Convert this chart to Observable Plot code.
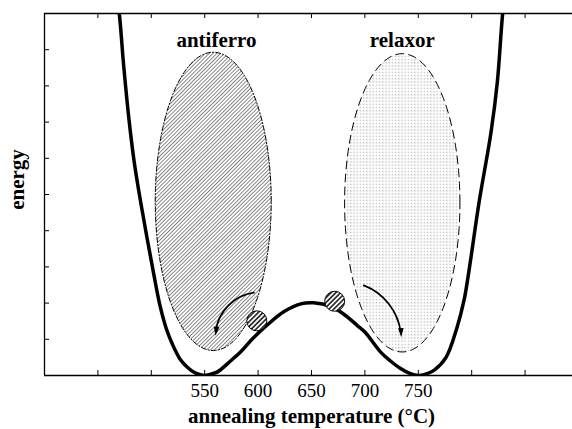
<!DOCTYPE html>
<html><head><meta charset="utf-8">
<script src="https://cdn.jsdelivr.net/npm/d3@7"></script>
<script src="https://cdn.jsdelivr.net/npm/@observablehq/plot@0.6"></script>
<style>body{margin:0;background:#fff} svg{display:block}</style>
</head><body><div id="chart"></div>
<script>
// ---- data ----
const curveT = [465, 470, 474, 479, 484, 490, 496, 502, 508, 514, 520, 527, 534, 540, 545, 550, 555, 562, 573, 584, 595, 608, 624, 640, 652, 668, 680, 693, 700, 715, 724, 733, 742, 750, 757, 765, 776, 786, 793, 798, 807, 818, 824, 829, 833];
const curveE = [11.0, 10.0, 8.6, 7.1, 5.9, 4.8, 3.8, 2.85, 1.95, 1.3, 0.85, 0.45, 0.22, 0.09, 0.03, 0.0, 0.03, 0.1, 0.37, 0.66, 1.02, 1.38, 1.76, 1.98, 2.01, 1.91, 1.70, 1.38, 1.2, 0.64, 0.4, 0.2, 0.06, 0.0, 0.04, 0.15, 0.5, 1.3, 2.1, 3.0, 4.8, 6.7, 8.1, 10.0, 11.0];
const xTicks = [450, 500, 550, 600, 650, 700, 750, 800, 850];
const xTickLabels = [550, 600, 650, 700, 750];
const yTicks = [1, 2, 3, 4, 5, 6, 7, 8, 9];
const regionNames = ["antiferro", "relaxor"];
const regionCenterT = [558, 735];
const regionCenterE = [4.81, 4.77];
const regionRadT = [54.3, 54];
const regionRadE = [4.12, 4.12];
const labelT = [561, 735];
const labelE = [9.25, 9.25];
const ballT = [598.8, 671.7];
const ballE = [1.51, 2.05];
const arrowFromT = [596, 699];
const arrowFromE = [2.29, 2.49];
const arrowToT = [560, 734];
const arrowToE = [1.10, 1.06];
const arrowBend = [-40, 33];
const headRotate = [8, -2];
const xTitle = "annealing temperature (°C)";
const yTitle = "energy";

// ---- layout ----
const W = 572, H = 429, mL = 44, mT = 13, mB = 54, mR = 0;
const xDomain = [400, 894.4], yDomain = [0, 10];
const pxT = (W - mL - mR) / (xDomain[1] - xDomain[0]);
const pxE = (H - mT - mB) / (yDomain[1] - yDomain[0]);
const tickLen = 5;
const font = "'Liberation Serif', 'Times New Roman', serif";

const curve = curveT.map((t, i) => ({t, e: curveE[i]}));
const ellipse = (i) => d3.range(0, 144).map(k => {
  const a = 2 * Math.PI * k / 144;
  return {t: regionCenterT[i] + regionRadT[i] * Math.cos(a), e: regionCenterE[i] + regionRadE[i] * Math.sin(a)};
});
const balls = ballT.map((t, i) => ({t, e: ballE[i]}));
const arrowHead = {draw(ctx, size) {
  const r = Math.sqrt(size / Math.PI);
  ctx.moveTo(0, 0); ctx.lineTo(-r * 0.62, -r * 2); ctx.lineTo(r * 0.62, -r * 2); ctx.closePath();
}};

const marks = [
  Plot.line(ellipse(0), {x: "t", y: "e", curve: "linear-closed", fill: "url(#hatchA)", stroke: "black", strokeWidth: 1, strokeDasharray: "5,2,1.2,2"}),
  Plot.line(ellipse(1), {x: "t", y: "e", curve: "linear-closed", fill: "url(#dotsR)", stroke: "black", strokeWidth: 1, strokeDasharray: "8,5"}),
  Plot.line(curve, {x: "t", y: "e", curve: "catmull-rom", stroke: "black", strokeWidth: 3.5, strokeLinejoin: "round", clip: true}),
  // frame (left, top, bottom)
  Plot.ruleY([yDomain[0], yDomain[1]], {stroke: "black", strokeWidth: 1.3}),
  Plot.ruleX([xDomain[0]], {stroke: "black", strokeWidth: 1.3}),
  // inward ticks
  Plot.ruleX(xTicks, {x: d => d, y1: yDomain[0], y2: yDomain[0] + tickLen / pxE, stroke: "black", strokeWidth: 1}),
  Plot.ruleX(xTicks, {x: d => d, y1: yDomain[1], y2: yDomain[1] - tickLen / pxE, stroke: "black", strokeWidth: 1}),
  Plot.ruleY(yTicks, {y: d => d, x1: xDomain[0], x2: xDomain[0] + tickLen / pxT, stroke: "black", strokeWidth: 1}),
  // tick labels and titles
  Plot.text(xTickLabels, {x: d => d, y: yDomain[0], dy: 15, text: d => String(d), fontSize: 19, fill: "black"}),
  Plot.text([xTitle], {x: 650, y: yDomain[0], dy: 41, text: d => d, fontSize: 21, fontWeight: "bold", fill: "black"}),
  Plot.text([yTitle], {frameAnchor: "left", textAnchor: "middle", dx: -27, dy: -15, rotate: -90, text: d => d, fontSize: 21, fontWeight: "bold", fill: "black"}),
  Plot.text(regionNames, {x: (d, i) => labelT[i], y: (d, i) => labelE[i], text: d => d, fontSize: 21, fontWeight: "bold", fill: "black"}),
  // arrows
  Plot.arrow([0], {x1: i => arrowFromT[i], y1: i => arrowFromE[i], x2: i => arrowToT[i], y2: i => arrowToE[i], bend: arrowBend[0], headLength: 0, strokeWidth: 1.8, insetEnd: 5, stroke: "black"}),
  Plot.arrow([1], {x1: i => arrowFromT[i], y1: i => arrowFromE[i], x2: i => arrowToT[i], y2: i => arrowToE[i], bend: arrowBend[1], headLength: 0, strokeWidth: 1.8, insetEnd: 5, stroke: "black"}),
  Plot.dot([0, 1], {x: i => arrowToT[i], y: i => arrowToE[i], symbol: arrowHead, r: 4.5, fill: "black", stroke: "none", rotate: i => headRotate[i]}),
  // balls
  Plot.dot(balls, {x: "t", y: "e", r: 10, fill: "url(#ballH)", stroke: "black", strokeWidth: 1})
];

const svg = Plot.plot({
  width: W, height: H,
  marginLeft: mL, marginTop: mT, marginBottom: mB, marginRight: mR,
  x: {domain: xDomain, axis: null},
  y: {domain: yDomain, axis: null},
  style: {fontFamily: font, background: "white", color: "black"},
  marks
});

const defs = d3.select(svg).insert("defs", ":first-child");
const pA = defs.append("pattern").attr("id", "hatchA").attr("patternUnits", "userSpaceOnUse")
  .attr("width", 2.7).attr("height", 2.7).attr("patternTransform", "rotate(45)");
pA.append("rect").attr("width", 2.7).attr("height", 2.7).attr("fill", "white");
pA.append("line").attr("x1", 1.35).attr("y1", 0).attr("x2", 1.35).attr("y2", 2.7).attr("stroke", "#555").attr("stroke-width", 0.7);
const pD = defs.append("pattern").attr("id", "dotsR").attr("patternUnits", "userSpaceOnUse")
  .attr("width", 3.2).attr("height", 3.2);
pD.append("rect").attr("width", 3.2).attr("height", 3.2).attr("fill", "white");
pD.append("rect").attr("x", 1).attr("y", 1).attr("width", 1).attr("height", 1).attr("fill", "#8a8a8a");
const pB = defs.append("pattern").attr("id", "ballH").attr("patternUnits", "userSpaceOnUse")
  .attr("width", 3.4).attr("height", 3.4).attr("patternTransform", "rotate(45)");
pB.append("rect").attr("width", 3.4).attr("height", 3.4).attr("fill", "white");
pB.append("line").attr("x1", 1.7).attr("y1", 0).attr("x2", 1.7).attr("y2", 3.4).attr("stroke", "black").attr("stroke-width", 1.4);

document.getElementById("chart").appendChild(svg);
</script>
</body></html>
